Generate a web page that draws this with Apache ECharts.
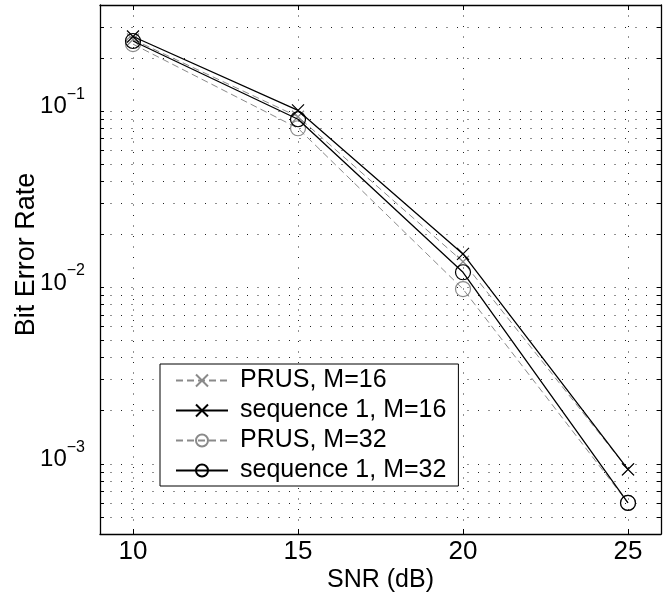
<!DOCTYPE html>
<html>
<head>
<meta charset="utf-8">
<script src="https://cdn.jsdelivr.net/npm/echarts@6/dist/echarts.min.js"></script>
<style>
html,body{margin:0;padding:0;background:#fff;}
#chart{width:671px;height:600px;}
</style>
</head>
<body>
<div id="chart"></div>
<script>
// ---- data ----
const snr = [10, 15, 20, 25];
const prus16 = [0.255, 0.093, 0.0140, 0.00093];
const seq16 = [0.265, 0.101, 0.0155, 0.00093];
const prus32 = [0.240, 0.080, 0.0098, 0.00060];
const seq32 = [0.250, 0.090, 0.0122, 0.00060];
const seriesNames = ['PRUS, M=16', 'sequence 1, M=16', 'PRUS, M=32', 'sequence 1, M=32'];
const xTicks = [10, 15, 20, 25];
const yMajorTicks = [0.001, 0.01, 0.1];
const yRange = [0.0004, 0.4];
const xRange = [9, 26];

// log grid positions (1..9 x 10^k) within range
const yAllTicks = [];
for (let k = -4; k <= -1; k++) {
  for (let m = 1; m <= 9; m++) {
    const v = parseFloat((m * Math.pow(10, k)).toPrecision(3));
    if (v >= yRange[0] && v <= yRange[1]) yAllTicks.push(v);
  }
}

const FONT = 'Liberation Sans, Arial, Helvetica, sans-serif';
const crossPath = 'path://M0,0L10,10M0,10L10,0';

function pairs(ys) { return snr.map((x, i) => [x, ys[i]]); }

const chart = echarts.init(document.getElementById('chart'), null, {renderer: 'canvas'});

const gridDot = {show: true, lineStyle: {color: '#222', width: 1, type: [1, 9.5]}};

function mkSeries(name, ys, dashed, cross) {
  const col = dashed ? '#8a8a8a' : '#000';
  return {
    name: name,
    type: 'line',
    data: pairs(ys),
    xAxisIndex: 0, yAxisIndex: 0,
    symbol: cross ? crossPath : 'circle',
    symbolSize: cross ? 12 : 15,
    symbolKeepAspect: true,
    showAllSymbol: true,
    lineStyle: {color: col, width: dashed ? 1 : 1.3, type: dashed ? [7, 4] : 'solid'},
    itemStyle: {color: 'rgba(0,0,0,0)', borderColor: col, borderWidth: 1.2},
    emphasis: {disabled: true},
    z: dashed ? 2 : 3
  };
}

const option = {
  animation: false,
  backgroundColor: '#fff',
  textStyle: {fontFamily: FONT},
  grid: {left: 100, right: 10, top: 5, bottom: 66, containLabel: false, outerBoundsMode: 'none'},
  legend: {
    orient: 'vertical',
    left: 160, top: 364,
    data: seriesNames,
    backgroundColor: '#fff',
    borderColor: '#000', borderWidth: 1,
    padding: [4, 12, 3, 15],
    itemWidth: 52, itemHeight: 15,
    itemGap: 5,
    textStyle: {fontFamily: FONT, fontSize: 25, color: '#000', padding: [0, 0, 0, 7], lineHeight: 25},
    selectedMode: false
  },
  xAxis: [{
    type: 'value', min: xRange[0], max: xRange[1], position: 'bottom',
    name: 'SNR (dB)', nameLocation: 'middle', nameGap: 34, nameMoveOverlap: false,
    nameTextStyle: {fontFamily: FONT, fontSize: 25, color: '#000'},
    axisLine: {show: true, onZero: false, lineStyle: {color: '#000', width: 1.3}},
    axisTick: {show: true, inside: true, length: 5, customValues: xTicks, lineStyle: {color: '#000'}},
    axisLabel: {show: true, customValues: xTicks, margin: 5, fontFamily: FONT, fontSize: 26, color: '#000'},
    splitLine: gridDot
  }, {
    type: 'value', min: xRange[0], max: xRange[1], position: 'top',
    axisLine: {show: true, onZero: false, lineStyle: {color: '#000', width: 1.3}},
    axisTick: {show: true, inside: true, length: 5, customValues: xTicks, lineStyle: {color: '#000'}},
    axisLabel: {show: false},
    splitLine: {show: false}
  }],
  yAxis: [{
    type: 'log', logBase: 10, min: yRange[0], max: yRange[1], position: 'left',
    name: 'Bit Error Rate', nameLocation: 'middle', nameGap: 60, nameRotate: 90, nameMoveOverlap: false,
    nameTextStyle: {fontFamily: FONT, fontSize: 27, color: '#000', padding: [0, 0, 0, 30]},
    axisLine: {show: true, onZero: false, lineStyle: {color: '#000', width: 1.3}},
    axisTick: {show: true, inside: true, length: 4, customValues: yAllTicks, lineStyle: {color: '#000'}},
    axisLabel: {
      show: true, customValues: yMajorTicks, margin: 15,
      padding: [0, 0, 17, 0],
      formatter: function (v) {
        const e = Math.round(Math.log10(v));
        return '{b|10}{s|\u2212' + Math.abs(e) + '}';
      },
      rich: {
        b: {fontFamily: FONT, fontSize: 24, color: '#000', lineHeight: 32, verticalAlign: 'bottom'},
        s: {fontFamily: FONT, fontSize: 16, color: '#000', lineHeight: 32, verticalAlign: 'top'}
      }
    },
    splitLine: gridDot
  }, {
    type: 'log', logBase: 10, min: yRange[0], max: yRange[1], position: 'right',
    axisLine: {show: true, onZero: false, lineStyle: {color: '#000', width: 1.3}},
    axisTick: {show: true, inside: true, length: 4, customValues: yAllTicks, lineStyle: {color: '#000'}},
    axisLabel: {show: false},
    splitLine: {show: false}
  }],
  series: [
    mkSeries(seriesNames[0], prus16, true, true),
    mkSeries(seriesNames[1], seq16, false, true),
    mkSeries(seriesNames[2], prus32, true, false),
    mkSeries(seriesNames[3], seq32, false, false)
  ]
};
chart.setOption(option);
</script>
</body>
</html>
